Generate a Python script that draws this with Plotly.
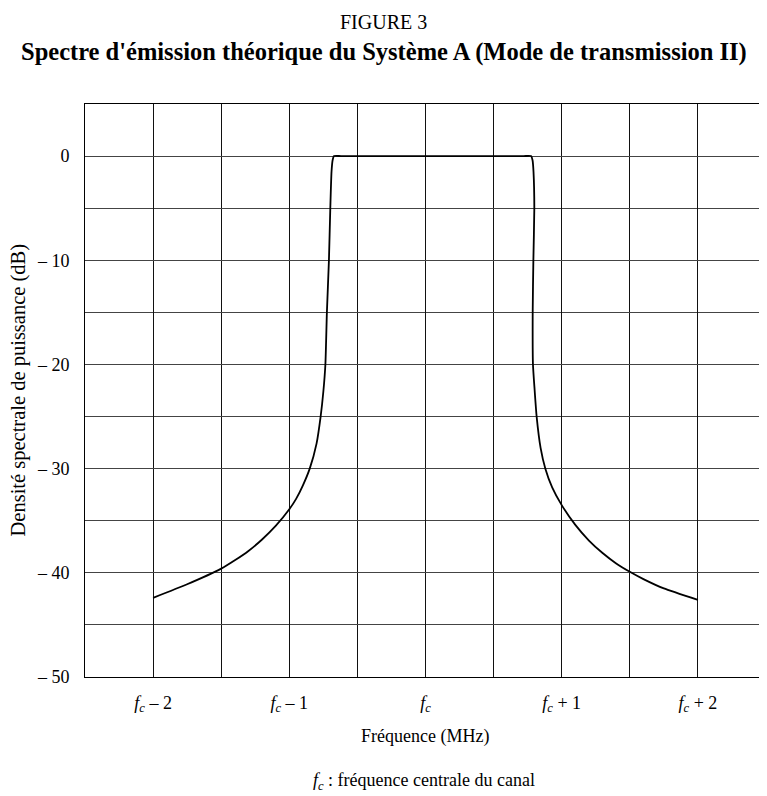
"""
Théorique spectre d'émission, Système A (Mode de transmission II)
"""
import plotly.graph_objects as go

# frequency offset from channel centre (MHz) and power spectral density (dB)
freq_mhz = [
    -2.0, -1.75, -1.5, -1.4, -1.3, -1.2, -1.1, -1.0, -0.95, -0.9, -0.85,
    -0.8, -0.77, -0.75, -0.735, -0.724, -0.709, -0.699, -0.69, -0.682,
    -0.672, -0.62, -0.3, 0.0, 0.3, 0.72,
    0.775, 0.786, 0.793, 0.799, 0.792, 0.787, 0.789, 0.801, 0.816, 0.845,
    0.88, 0.93, 1.0, 1.1, 1.2, 1.3, 1.4, 1.5, 1.6, 1.75, 2.0,
]
psd_db = [
    -42.4, -41.1, -39.6, -38.8, -37.9, -36.8, -35.5, -33.9, -32.9, -31.6,
    -30.0, -27.6, -25.0, -22.6, -20.0, -15.0, -10.0, -5.0, -1.5, -0.4,
    0.0, 0.0, 0.0, 0.0, 0.0, 0.0,
    0.0, -0.4, -1.5, -5.0, -10.0, -15.0, -20.0, -22.4, -25.0, -28.0,
    -30.0, -31.8, -33.5, -35.4, -36.9, -38.1, -39.1, -39.9, -40.6, -41.5,
    -42.6,
]

x_tickvals = [-2, -1, 0, 1, 2]
x_ticktext = [
    "<i>f<sub>c</sub></i> – 2",
    "<i>f<sub>c</sub></i> – 1",
    "<i>f<sub>c</sub></i>",
    "<i>f<sub>c</sub></i> + 1",
    "<i>f<sub>c</sub></i> + 2",
]
y_tickvals = [0, -10, -20, -30, -40, -50]
y_ticktext = ["0", "– 10", "– 20", "– 30", "– 40", "– 50"]

SERIF = "Liberation Serif, Times New Roman, serif"
# the page body adds an 8px margin, so the figure is 16px smaller than the window
PLOT_W = 681
PAGE_MID = (383.5 - 85) / PLOT_W

fig = go.Figure()
fig.add_trace(
    go.Scatter(
        x=freq_mhz,
        y=psd_db,
        mode="lines",
        line=dict(color="black", width=1.8, shape="spline", smoothing=0.5),
        showlegend=False,
    )
)

fig.update_layout(
    width=759,
    height=788,
    margin=dict(l=77, r=1, t=96, b=119),
    paper_bgcolor="white",
    plot_bgcolor="white",
    font=dict(family=SERIF, size=17, color="black"),
    showlegend=False,
)

fig.update_xaxes(
    range=[-2.5, 2.5],
    tickvals=x_tickvals,
    ticktext=x_ticktext,
    showgrid=True,
    gridcolor="#111",
    gridwidth=1,
    minor=dict(dtick=0.5, showgrid=True, gridcolor="#111", gridwidth=1),
    showline=True,
    linecolor="black",
    linewidth=1,
    mirror=True,
    zeroline=False,
    ticks="",
    ticklabelstandoff=9,
    tickfont=dict(size=18),
    automargin=False,
)
fig.update_yaxes(
    range=[-50, 5],
    tickvals=y_tickvals,
    ticktext=y_ticktext,
    showgrid=True,
    gridcolor="#444",
    gridwidth=1,
    minor=dict(dtick=5, tick0=0, showgrid=True, gridcolor="#444", gridwidth=1),
    showline=True,
    linecolor="black",
    linewidth=1,
    mirror=True,
    zeroline=False,
    ticks="",
    ticklabelstandoff=11,
    tickfont=dict(size=18),
    automargin=False,
)

fig.add_annotation(
    text="FIGURE 3",
    xref="paper", yref="paper", x=PAGE_MID, y=1, yshift=82,
    xanchor="center", yanchor="middle", showarrow=False,
    font=dict(size=20),
)
fig.add_annotation(
    text="<b>Spectre d'émission théorique du Système A (Mode de transmission II)</b>",
    xref="paper", yref="paper", x=PAGE_MID, y=1, yshift=52,
    xanchor="center", yanchor="middle", showarrow=False,
    font=dict(size=24.5),
)
fig.add_annotation(
    text="Densité spectrale de puissance (dB)",
    xref="paper", yref="paper", x=(18 - 85) / PLOT_W, y=0.5,
    xanchor="center", yanchor="middle", showarrow=False, textangle=-90,
    font=dict(size=20.5),
)
fig.add_annotation(
    text="Fréquence (MHz)",
    xref="paper", yref="paper", x=(424.5 - 85) / PLOT_W, y=0, yshift=-59,
    xanchor="center", yanchor="middle", showarrow=False,
    font=dict(size=18),
)
fig.add_annotation(
    text="<i>f<sub>c</sub></i> : fréquence centrale du canal",
    xref="paper", yref="paper", x=(424 - 85) / PLOT_W, y=0, yshift=-104,
    xanchor="center", yanchor="middle", showarrow=False,
    font=dict(size=18),
)

fig.write_html("out.html")
